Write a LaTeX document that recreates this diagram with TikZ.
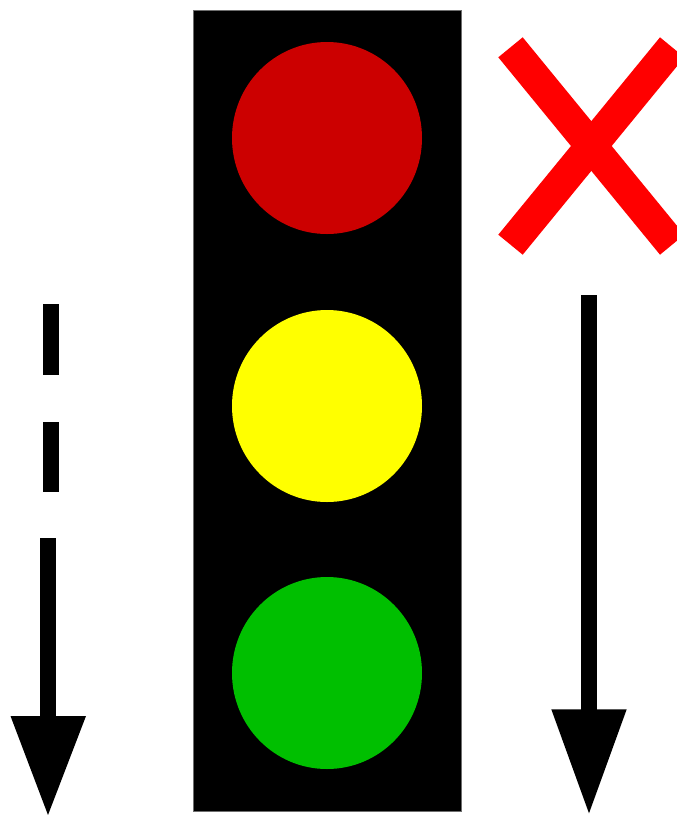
\documentclass[tikz,border=0pt]{standalone}
\definecolor{lampred}{RGB}{204,0,0}
\definecolor{lampyellow}{RGB}{255,255,0}
\definecolor{lampgreen}{RGB}{0,191,0}
\definecolor{crossred}{RGB}{255,0,0}
\definecolor{edgegray}{RGB}{110,110,110}
\tikzset{
  housing/.style={fill=black,draw=edgegray,line width=0.6pt},
  lamp/.style={line width=0pt},
  crossbar/.style={fill=crossred},
  shaft/.style={fill=black},
  head/.style={fill=black}
}
\begin{document}
\begin{tikzpicture}[x=1pt,y=-1pt]
\useasboundingbox (0,0) rectangle (677,815);
\clip (0,0) rectangle (677,815);
% housing and lamps
\path[housing] (193,10) rectangle (461,811);
\fill[lampred,lamp] (327,138) ellipse [x radius=95,y radius=96];
\fill[lampyellow,lamp] (327,406) ellipse [x radius=95,y radius=96];
\fill[lampgreen,lamp] (327,673) ellipse [x radius=95,y radius=96];
% red cross
\fill[crossbar] (498.3,57.3) -- (522.7,37.3) -- (684.3,234.7) -- (660,254.7) -- cycle;
\fill[crossbar] (498.3,234.7) -- (522.7,254.7) -- (684.3,57.3) -- (660,37.3) -- cycle;
% left dashed arrow
\fill[shaft] (43,304) rectangle (59,374.5);
\fill[shaft] (43,421.5) rectangle (59,491.5);
\fill[shaft] (40,537.5) rectangle (56.3,717);
\fill[head] (10.5,716) -- (86,716) -- (48,815) -- cycle;
% right solid arrow
\fill[shaft] (581,295) rectangle (597,710);
\fill[head] (551.3,709.3) -- (626.7,709.3) -- (589,813.3) -- cycle;
\end{tikzpicture}
\end{document}
